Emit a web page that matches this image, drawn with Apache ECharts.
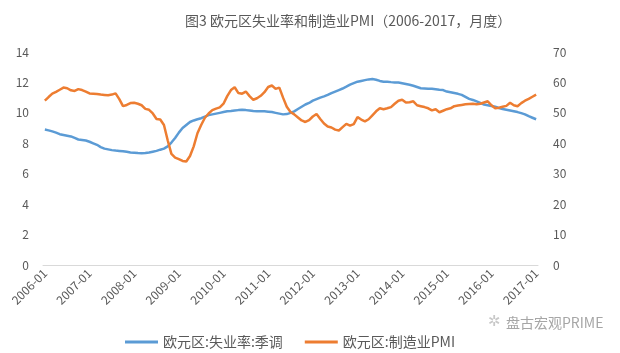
<!DOCTYPE html>
<html>
<head>
<meta charset="utf-8">
<script src="https://cdn.jsdelivr.net/npm/echarts@6/dist/echarts.min.js"></script>
<style>
  html, body { margin: 0; padding: 0; background: #fff; }
  #chart { width: 620px; height: 353px; }
</style>
</head>
<body>
<div id="chart"></div>
<script>
// 月份 2006-01 ~ 2017-01
var years = [2006, 2007, 2008, 2009, 2010, 2011, 2012, 2013, 2014, 2015, 2016, 2017];
var months = [];
years.forEach(function (y) {
  for (var m = 1; m <= 12; m++) {
    if (y === 2017 && m > 1) break;
    months.push(y + '-' + (m < 10 ? '0' + m : m));
  }
});

// 欧元区:失业率:季调 (%)
var unemployment = [
  8.9, 8.85, 8.78, 8.7, 8.6, 8.55, 8.5, 8.45, 8.35, 8.25, 8.22, 8.18,
  8.1, 8.0, 7.9, 7.75, 7.65, 7.6, 7.55, 7.52, 7.5, 7.48, 7.44, 7.4,
  7.38, 7.36, 7.35, 7.36, 7.4, 7.45, 7.5, 7.58, 7.65, 7.8, 8.05, 8.35,
  8.7, 9.0, 9.2, 9.4, 9.5, 9.58, 9.65, 9.75, 9.85, 9.9, 9.95, 10.0,
  10.05, 10.1, 10.12, 10.15, 10.18, 10.2, 10.18, 10.15, 10.12, 10.1, 10.1, 10.1,
  10.08, 10.05, 10.0, 9.95, 9.9, 9.92, 10.0, 10.1, 10.25, 10.4, 10.55, 10.65,
  10.8, 10.9, 11.0, 11.08, 11.18, 11.3, 11.4, 11.5, 11.6, 11.72, 11.85, 11.95,
  12.05, 12.1, 12.15, 12.2, 12.22, 12.18, 12.1, 12.05, 12.05, 12.02, 12.0, 12.0,
  11.95, 11.9, 11.85, 11.78, 11.7, 11.62, 11.6, 11.58, 11.58, 11.55, 11.52, 11.5,
  11.4, 11.35, 11.3, 11.25, 11.18, 11.05, 10.92, 10.85, 10.75, 10.65, 10.55, 10.5,
  10.45, 10.4, 10.32, 10.25, 10.2, 10.15, 10.1, 10.05, 9.98, 9.9, 9.78, 9.68,
  9.58
];

// 欧元区:制造业PMI
var pmi = [
  54.0, 55.2, 56.3, 56.9, 57.6, 58.3, 58.1, 57.4, 57.2, 57.8, 57.5, 57.0,
  56.4, 56.3, 56.2, 56.0, 55.9, 55.8, 56.0, 56.4, 54.5, 52.2, 52.6, 53.2,
  53.3, 53.0, 52.5, 51.3, 51.0, 49.8, 48.0, 47.8, 46.0, 41.0, 36.5, 35.3,
  34.8, 34.2, 34.0, 35.8, 39.0, 43.3, 46.0, 48.4, 49.8, 50.9, 51.4, 51.8,
  53.0, 55.5, 57.5, 58.4, 56.5, 56.3, 57.0, 55.5, 54.3, 54.8, 55.6, 56.8,
  58.5, 59.0, 57.9, 58.3, 55.0, 52.0, 50.3, 49.5, 48.5, 47.5, 47.0, 47.6,
  48.8, 49.6, 48.0, 46.5, 45.5, 45.2, 44.5, 44.2, 45.3, 46.4, 45.8, 46.3,
  48.6, 47.8, 47.2, 47.9, 49.2, 50.5, 51.5, 51.2, 51.5, 51.9, 53.0, 54.0,
  54.3, 53.4, 53.5, 53.8, 52.5, 52.2, 51.9, 51.5, 50.8, 51.2, 50.2, 50.7,
  51.2, 51.5, 52.2, 52.4, 52.6, 52.8, 52.9, 53.0, 52.8, 53.0, 53.4, 53.8,
  52.5, 51.5, 51.7, 52.0, 52.3, 53.3, 52.5, 52.2, 53.2, 54.0, 54.6, 55.3,
  56.0
];

var textColor = '#595959';
var font = '"Noto Sans CJK SC", "Noto Sans", sans-serif';

var chart = echarts.init(document.getElementById('chart'));

var option = {
  backgroundColor: '#fff',
  animation: false,
  title: {
    text: '图3 欧元区失业率和制造业PMI（2006-2017，月度）',
    left: 180,
    top: 9,
    textStyle: {
      color: textColor,
      fontSize: 14,
      fontWeight: 'normal',
      fontFamily: font
    }
  },
  grid: {
    left: 43,
    right: 82,
    top: 52,
    bottom: 88
  },
  legend: {
    left: 120,
    top: 330,
    icon: 'rect',
    itemWidth: 33,
    itemHeight: 3,
    itemGap: 22,
    textStyle: {
      color: textColor,
      fontSize: 14,
      fontFamily: font
    },
    data: ['欧元区:失业率:季调', '欧元区:制造业PMI']
  },
  xAxis: {
    type: 'category',
    data: months,
    boundaryGap: true,
    axisLine: {
      lineStyle: { color: '#d9d9d9', width: 1 }
    },
    axisTick: { show: false },
    axisLabel: {
      interval: 11,
      rotate: 45,
      margin: 6,
      color: textColor,
      fontSize: 12,
      fontFamily: font
    }
  },
  yAxis: [
    {
      type: 'value',
      min: 0,
      max: 14,
      interval: 2,
      axisLine: { show: false },
      axisTick: { show: false },
      splitLine: { show: false },
      axisLabel: {
        margin: 14,
        color: textColor,
        fontSize: 12,
        fontFamily: font
      }
    },
    {
      type: 'value',
      min: 0,
      max: 70,
      interval: 10,
      axisLine: { show: false },
      axisTick: { show: false },
      splitLine: { show: false },
      axisLabel: {
        margin: 15,
        color: textColor,
        fontSize: 12,
        fontFamily: font
      }
    }
  ],
  series: [
    {
      name: '欧元区:失业率:季调',
      type: 'line',
      yAxisIndex: 0,
      data: unemployment,
      showSymbol: false,
      symbol: 'none',
      color: '#5B9BD5',
      lineStyle: { width: 2.5, color: '#5B9BD5' }
    },
    {
      name: '欧元区:制造业PMI',
      type: 'line',
      yAxisIndex: 1,
      data: pmi,
      showSymbol: false,
      symbol: 'none',
      color: '#ED7D31',
      lineStyle: { width: 2.5, color: '#ED7D31' }
    }
  ],
  graphic: [
    {
      type: 'text',
      left: 506,
      top: 316,
      style: {
        text: '盘古宏观PRIME',
        fill: '#a6a6a6',
        font: '14px ' + font
      }
    },
    {
      type: 'text',
      left: 488,
      top: 315,
      style: {
        text: '✲',
        fill: '#c8c8c8',
        font: '15px "DejaVu Sans"'
      }
    }
  ]
};

chart.setOption(option);
</script>
</body>
</html>
